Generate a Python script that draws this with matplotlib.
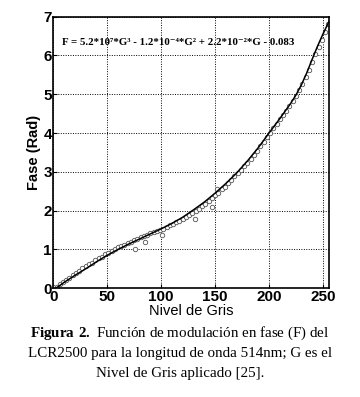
import numpy as np
import matplotlib
matplotlib.use('Agg')
import matplotlib.pyplot as plt

plt.rcParams['mathtext.fontset'] = 'custom'
plt.rcParams['mathtext.rm'] = 'Liberation Serif'
plt.rcParams['mathtext.bf'] = 'Liberation Serif:bold'

# fitted curve
g_fit = [0, 10, 20, 30, 40, 50, 60, 70, 80, 90, 100, 110, 120, 130, 140,
         150, 160, 170, 180, 190, 200, 210, 220, 225, 230, 235, 240, 245,
         250, 256]
f_fit = [-0.05, 0.15, 0.33, 0.50, 0.68, 0.85, 1.00, 1.14, 1.27, 1.40, 1.53,
         1.67, 1.83, 2.02, 2.22, 2.45, 2.70, 2.97, 3.28, 3.62, 4.00, 4.37,
         4.76, 4.98, 5.24, 5.55, 5.90, 6.24, 6.55, 6.90]

# measured points
g_meas = [0, 3, 6, 9, 12, 15, 18, 21, 24, 27, 30, 33, 36, 39, 42, 45, 48, 51,
          54, 57, 60, 63, 66, 69, 72, 75, 78, 81, 84, 87, 90, 93, 96, 99, 102,
          105, 108, 111, 114, 117, 120, 123, 126, 129, 132, 135, 138, 141, 144,
          147, 150, 153, 156, 159, 162, 165, 168, 171, 174, 177, 180, 183, 186,
          189, 192, 195, 198, 201, 204, 207, 210, 213, 216, 219, 222, 225, 228,
          231, 234, 237, 240, 243, 246, 249, 252, 255,
          76, 85, 101, 131, 147, 152]
f_meas = [0.02, 0.04, 0.10, 0.16, 0.22, 0.27, 0.34, 0.40, 0.44, 0.52, 0.58,
          0.62, 0.66, 0.72, 0.78, 0.80, 0.88, 0.92, 0.96, 1.01, 1.05, 1.08,
          1.12, 1.17, 1.20, 1.24, 1.28, 1.31, 1.34, 1.38, 1.42, 1.44, 1.48,
          1.51, 1.52, 1.58, 1.62, 1.66, 1.70, 1.74, 1.79, 1.84, 1.89, 1.95,
          1.98, 2.05, 2.12, 2.18, 2.25, 2.33, 2.40, 2.46, 2.55, 2.62, 2.71,
          2.79, 2.88, 2.96, 3.05, 3.14, 3.24, 3.34, 3.44, 3.55, 3.67, 3.78,
          3.90, 4.01, 4.13, 4.24, 4.35, 4.46, 4.58, 4.70, 4.82, 4.95, 5.10,
          5.26, 5.44, 5.62, 5.84, 6.03, 6.22, 6.40, 6.60, 6.80,
          1.02, 1.18, 1.36, 1.78, 2.10, 2.55]

eq_text = 'F = 5.2*10⁷*G³ - 1.2*10⁻⁴*G² + 2.2*10⁻²*G - 0.083'

fig = plt.figure(figsize=(3.6, 3.97), dpi=100)
ax = fig.add_axes([0.148, 0.274, 0.767, 0.684])

ax.plot(g_meas, f_meas, 'o', markersize=3.2, markerfacecolor='white',
        markeredgecolor='#555555', markeredgewidth=0.6, zorder=2)
ax.plot(g_fit, f_fit, '-', color='black', linewidth=1.1, zorder=3)

ax.set_xlim(0, 256)
ax.set_ylim(0, 7)
ax.set_xticks([0, 50, 100, 150, 200, 250])
ax.set_yticks(range(8))
ax.grid(True, color='black', linestyle=(0, (1, 1.5)), linewidth=0.7)
ax.tick_params(direction='in', length=3, labelsize=11, pad=1)
for lab in ax.get_xticklabels() + ax.get_yticklabels():
    lab.set_fontweight('bold')
    lab.set_family('Liberation Sans')
for sp in ax.spines.values():
    sp.set_linewidth(1.2)

ax.set_xlabel('Nivel de Gris', fontsize=10.5, family='Liberation Sans',
              labelpad=0)
ax.set_ylabel('Fase (Rad)', fontsize=10.5, family='Liberation Sans',
              fontweight='bold', labelpad=2)

ax.text(0.03, 0.905, eq_text, transform=ax.transAxes, fontsize=7.8,
        fontweight='bold', family=['Liberation Serif', 'DejaVu Serif'],
        va='center', ha='left')

# caption
cap_kw = dict(ha='center', va='center', fontsize=10.8,
              family=['Liberation Serif', 'DejaVu Serif'])
fig.text(0.5, 1 - 333 / 397,
         r'$\mathbf{Figura\ 2.}$ Función de modulación en fase (F) del',
         **cap_kw)
fig.text(0.5, 1 - 353 / 397,
         'LCR2500 para la longitud de onda 514nm; G es el', **cap_kw)
fig.text(0.5, 1 - 373 / 397, 'Nivel de Gris aplicado [25].', **cap_kw)

fig.savefig('out.png', dpi=100)
